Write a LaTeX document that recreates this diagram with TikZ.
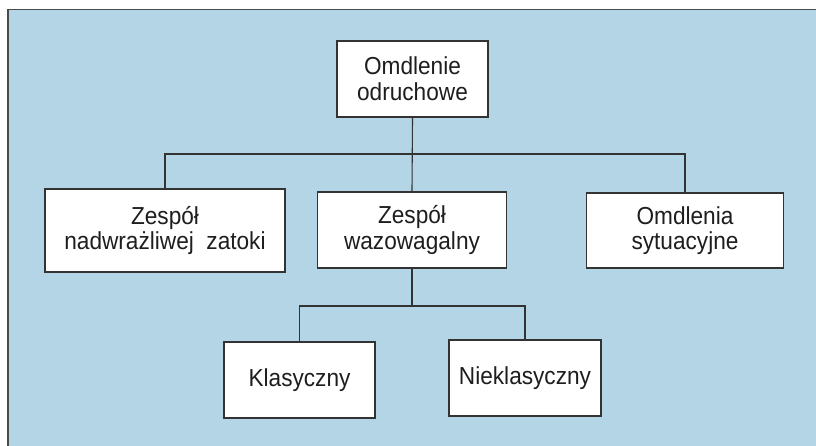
\documentclass[tikz,border=0pt]{standalone}
\usepackage{fontspec}
\setmainfont{Liberation Sans}[FakeStretch=0.92]
\definecolor{bgblue}{HTML}{B3D5E6}
\definecolor{framegray}{HTML}{4A4A4A}
\definecolor{linegray}{HTML}{333333}
\definecolor{txtgray}{HTML}{1E1E1E}
\begin{document}
\begin{tikzpicture}[x=1pt,y=-1pt,
  box/.style={draw=linegray,line width=1.2pt,fill=white,align=center,inner sep=0pt,
    text=txtgray,font=\fontsize{24.6}{25.7}\selectfont},
  conn/.style={draw=linegray,line width=1.1pt}]
\useasboundingbox (0,0) rectangle (816,446);
\fill[white] (0,0) rectangle (816,446);
\fill[bgblue] (8,9.5) rectangle (816,446);
\draw[framegray,line width=1.6pt] (8,446) -- (8,9.5) -- (816,9.5);
\node[box,minimum width=151,minimum height=76] (top) at (412.5,79) {Omdlenie\\odruchowe};
\node[box,minimum width=240,minimum height=83] (left) at (165,230.5) {Zespół\\nadwrażliwej\ \ zatoki};
\node[box,minimum width=189,minimum height=76] (mid) at (412,230) {Zespół\\wazowagalny};
\node[box,minimum width=197,minimum height=75] (right) at (685,230.5) {Omdlenia\\sytuacyjne};
\node[box,minimum width=151,minimum height=76] (klas) at (299.5,380) {Klasyczny};
\node[box,minimum width=152,minimum height=76] (niek) at (525,378) {Nieklasyczny};
\coordinate (b1) at (412,154);
\coordinate (b2) at (412,306);
\draw[conn] (top.south) -- (mid.north);
\draw[conn] (left.north) |- (b1) -| (right.north);
\draw[conn] (mid.south) -- (b2);
\draw[conn] (klas.north) |- (b2) -| (niek.north);
\end{tikzpicture}
\end{document}
